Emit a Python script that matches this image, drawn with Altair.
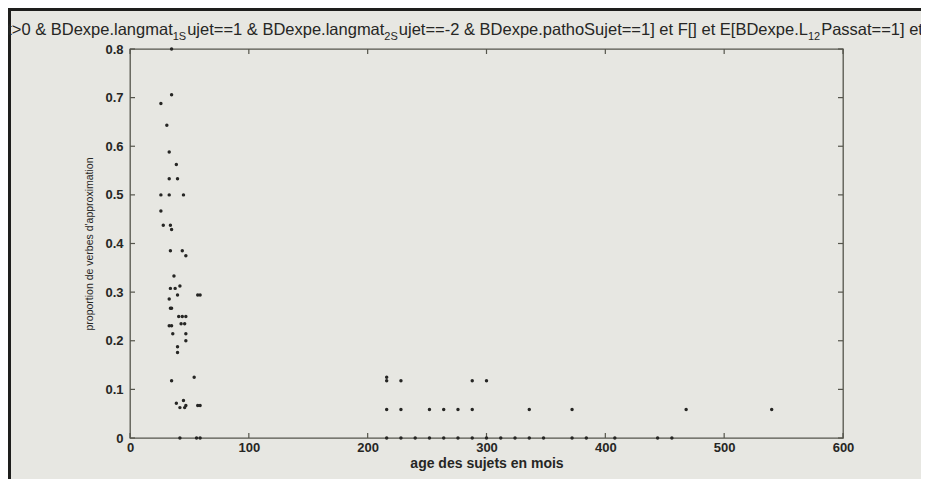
import altair as alt
import pandas as pd

# ---- data ----
age_enfants = [35, 35, 26, 31, 33, 39, 33, 40, 26, 33, 45, 26, 28, 34, 35, 34, 44, 47, 37,
               34, 38, 42, 33, 40, 57, 59, 34, 35, 33, 35, 36, 41, 44, 47, 43, 46, 47, 47,
               40, 40, 35, 54, 39, 45, 42, 46, 47, 57, 59, 42, 56, 59]
prop_enfants = [0.8, 0.706, 0.688, 0.643, 0.588, 0.5625, 0.533, 0.533, 0.5, 0.5, 0.5, 0.467,
                0.4375, 0.4375, 0.4286, 0.385, 0.385, 0.375, 0.333,
                0.3077, 0.3077, 0.3125, 0.286, 0.294, 0.294, 0.294, 0.2667, 0.2667, 0.2308,
                0.2308, 0.2143, 0.25, 0.25, 0.25, 0.235, 0.235, 0.2143, 0.2,
                0.1875, 0.176, 0.1176, 0.125, 0.0714, 0.0769, 0.0625, 0.0625, 0.0667, 0.0667,
                0.0667, 0.0, 0.0, 0.0]
age_adultes = [216, 216, 228, 288, 300,
               216, 228, 252, 264, 276, 288, 336, 372, 468, 540,
               216, 228, 240, 252, 264, 276, 288, 300, 312, 324, 336, 348, 372, 384, 408, 444, 456]
prop_adultes = [0.125, 0.1176, 0.1176, 0.1176, 0.1176,
                0.0588, 0.0588, 0.0588, 0.0588, 0.0588, 0.0588, 0.0588, 0.0588, 0.0588, 0.0588,
                0, 0, 0, 0, 0, 0, 0, 0, 0, 0, 0, 0, 0, 0, 0, 0, 0]

x_ticks = [0, 100, 200, 300, 400, 500, 600]
y_ticks = [0, 0.1, 0.2, 0.3, 0.4, 0.5, 0.6, 0.7, 0.8]

title_parts = [
    ("at>0 & BDexpe.langmat", False), ("1S", True),
    ("ujet==1 & BDexpe.langmat", False), ("2S", True),
    ("ujet==-2 & BDexpe.pathoSujet==1] et F[] et E[BDexpe.L", False), ("12", True),
    ("Passat==1] et F[]", False),
]
x_title = "age des sujets en mois"
y_title = "proportion de verbes d'approximation"

# ---- layout / style ----
W, H = 713, 389
PAD_L, PAD_T = 122, 41
BG = "#e7e7e2"
INK = "#262624"
AXC = "#55554c"
FONT = "Liberation Sans"
T_FS, S_FS = 16.5, 11

arial = {' ': 278, '&': 667, '-': 333, '.': 278, '=': 584, '>': 584, '[': 278, ']': 278,
         'B': 667, 'D': 722, 'E': 667, 'F': 611, 'L': 556, 'P': 667, 'S': 667,
         'a': 556, 'e': 556, 'g': 556, 'h': 556, 'j': 222, 'l': 222, 'm': 833, 'n': 556,
         'o': 556, 'p': 556, 's': 500, 't': 278, 'u': 556, 'x': 500}


def twidth(s, fs):
    return sum(arial.get(c, 556) for c in s) / 1000 * fs


rows_main, rows_sub = [], []
cur = -2 - 8 - PAD_L  # page x -2
for txt, sub in title_parts:
    fs = S_FS if sub else T_FS
    (rows_sub if sub else rows_main).append({"px": cur, "t": txt})
    cur += twidth(txt, fs) + (1 if sub else 0)

pts = pd.DataFrame({"age": age_enfants + age_adultes, "prop": prop_enfants + prop_adultes})
xt = pd.DataFrame({"v": x_ticks})
yt = pd.DataFrame({"v": y_ticks})

xs = alt.Scale(domain=[0, 600], nice=False, zero=False)
ys = alt.Scale(domain=[0, 0.8], nice=False, zero=False)

points = alt.Chart(pts).mark_circle(size=12, color=INK, opacity=1).encode(
    x=alt.X("age:Q", scale=xs, axis=alt.Axis(
        values=x_ticks, format="d", ticks=False, domain=False, grid=False,
        labelFont=FONT, labelFontSize=13, labelFontWeight="bold", labelColor=INK,
        labelPadding=3, labelFlush=False,
        title=x_title, titleFont=FONT, titleFontSize=14, titleFontWeight="bold",
        titleColor=INK, titlePadding=2)),
    y=alt.Y("prop:Q", scale=ys, axis=alt.Axis(
        values=y_ticks, format=".1~f", ticks=False, domain=False, grid=False,
        labelFont=FONT, labelFontSize=13, labelFontWeight="bold", labelColor=INK,
        labelPadding=7, labelFlush=False,
        title=y_title, titleFont=FONT, titleFontSize=10.5, titleFontWeight="normal",
        titleColor=INK, titlePadding=10)),
)

TL = 5
tick_b = alt.Chart(xt).mark_rule(color=AXC, strokeWidth=1.2).encode(
    x=alt.X("v:Q", scale=xs), y=alt.value(H), y2=alt.value(H - TL))
tick_t = alt.Chart(xt).mark_rule(color=AXC, strokeWidth=1.2).encode(
    x=alt.X("v:Q", scale=xs), y=alt.value(0), y2=alt.value(TL))
tick_l = alt.Chart(yt).mark_rule(color=AXC, strokeWidth=1.2).encode(
    y=alt.Y("v:Q", scale=ys), x=alt.value(0), x2=alt.value(TL))
tick_r = alt.Chart(yt).mark_rule(color=AXC, strokeWidth=1.2).encode(
    y=alt.Y("v:Q", scale=ys), x=alt.value(W), x2=alt.value(W - TL))

title_main = alt.Chart(pd.DataFrame(rows_main)).mark_text(
    align="left", baseline="alphabetic", font=FONT, fontSize=T_FS, color=INK
).encode(x=alt.X("px:Q", scale=None), y=alt.value(-14), text="t:N")
title_sub = alt.Chart(pd.DataFrame(rows_sub)).mark_text(
    align="left", baseline="alphabetic", font=FONT, fontSize=S_FS, color=INK
).encode(x=alt.X("px:Q", scale=None), y=alt.value(-9), text="t:N")

frame_top = alt.Chart(pd.DataFrame({"a": [0]})).mark_rule(color="#1e1e1c", strokeWidth=3).encode(
    x=alt.value(-PAD_L), x2=alt.value(913 - PAD_L), y=alt.value(-39.5))
frame_left = alt.Chart(pd.DataFrame({"a": [0]})).mark_rule(color="#1e1e1c", strokeWidth=3).encode(
    x=alt.value(-PAD_L + 1.5), y=alt.value(-41), y2=alt.value(H + 41))

chart = alt.layer(
    frame_top, frame_left, tick_b, tick_t, tick_l, tick_r, points, title_main, title_sub
).properties(
    width=W, height=H,
    autosize=alt.AutoSizeParams(type="none"),
    padding={"left": PAD_L, "top": PAD_T, "right": 913 - PAD_L - W, "bottom": 471 - PAD_T - H},
).configure(background=BG).configure_view(stroke=AXC, strokeWidth=1.3, fill=BG)

chart.save("out.html", embed_options={"renderer": "svg", "actions": False})
